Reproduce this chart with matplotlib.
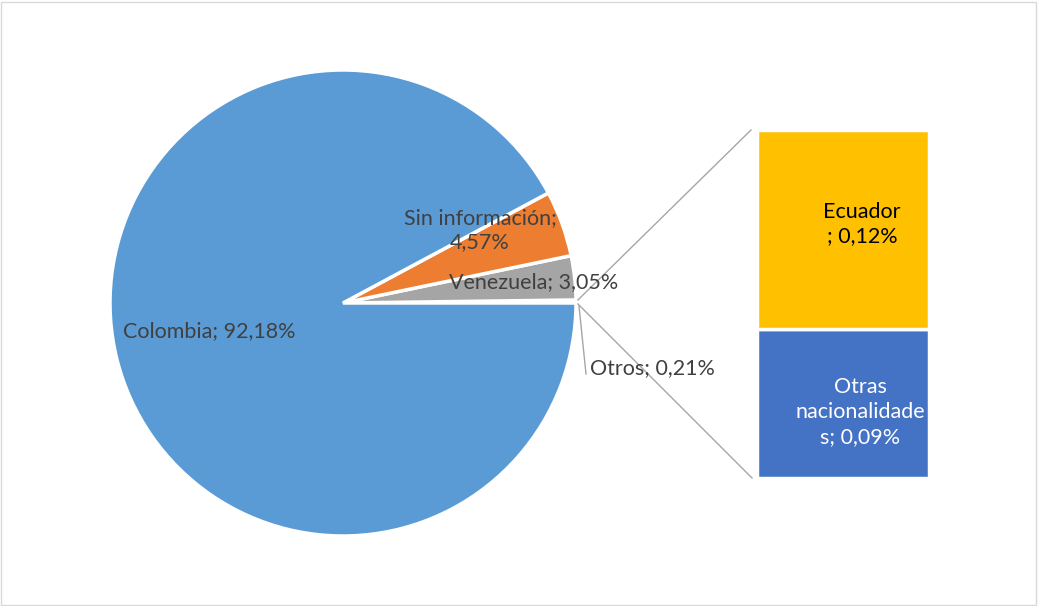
import numpy as np
import matplotlib
matplotlib.use("Agg")
import matplotlib.pyplot as plt
from matplotlib.patches import Rectangle

# pie data (counterclockwise from 3 o'clock)
pie_labels = ["Otros", "Venezuela", "Sin información", "Colombia"]
pie_values = [0.21, 3.05, 4.57, 92.18]
pie_colors = ["white", "#A5A5A5", "#ED7D31", "#5B9BD5"]

# bar data (breakdown of "Otros")
bar_labels = ["Otras\nnacionalidade\ns", "Ecuador\n"]
bar_values = [0.09, 0.12]
bar_colors = ["#4472C4", "#FFC000"]

plt.rcParams["font.family"] = ["Lato", "DejaVu Sans"]

W, H = 1038, 606
fig = plt.figure(figsize=(W / 100, H / 100), dpi=100)
ax = fig.add_axes([0, 0, 1, 1])

cx, cy, r = 343, 303, 233
ax.pie(pie_values, colors=pie_colors, startangle=0, counterclock=True,
       center=(cx, cy), radius=r, frame=True,
       wedgeprops=dict(edgecolor="white", linewidth=2.5))
ax.set_xlim(0, W)
ax.set_ylim(0, H)
ax.set_aspect("equal")
ax.axis("off")

txt = "#404040"
fs = 15.5
ax.text(209, H - 331, "Colombia; 92,18%", color=txt, fontsize=fs, ha="center", va="center")
ax.text(480, H - 230, "Sin información;\n4,57%", color=txt, fontsize=fs, ha="center", va="center",
        linespacing=1.3)
ax.text(534, H - 282, "Venezuela; 3,05%", color=txt, fontsize=fs, ha="center", va="center")
ax.text(590, H - 368, "Otros; 0,21%", color=txt, fontsize=fs, ha="left", va="center")
ax.plot([579, 586], [H - 306, H - 374], color="#A6A6A6", lw=1)

# stacked bar for the "Otros" breakdown
bx, bw = 843, 172
b_bottom, b_top = 128, 476
scale = (b_top - b_bottom) / sum(bar_values)
bottom = b_bottom
for lab, val, col in zip(bar_labels, bar_values, bar_colors):
    hgt = val * scale
    ax.bar(bx, hgt, width=bw, bottom=bottom, color=col, edgecolor="white", linewidth=2.5)
    bottom += hgt

ax.text(bx + 19, H - 224, "Ecuador\n; 0,12%", color="black", fontsize=fs, ha="center",
        va="center", linespacing=1.3)
ax.text(bx + 17, H - 412, "Otras\nnacionalidade\ns; 0,09%", color="white", fontsize=fs,
        ha="center", va="center", linespacing=1.3)

# connector lines
a_top = np.deg2rad(360 * pie_values[0] / sum(pie_values))
ax.plot([cx + r * np.cos(a_top) + 2, bx - bw / 2 - 6], [cy + r * np.sin(a_top), b_top],
        color="#A6A6A6", lw=1)
ax.plot([cx + r + 2, bx - bw / 2 - 5], [cy - 1, b_bottom], color="#A6A6A6", lw=1)

fig.patches.append(Rectangle((1, 1), W - 3, H - 3, transform=None, fill=False,
                             edgecolor="#D9D9D9", lw=1))

fig.savefig("out.png", dpi=100)
